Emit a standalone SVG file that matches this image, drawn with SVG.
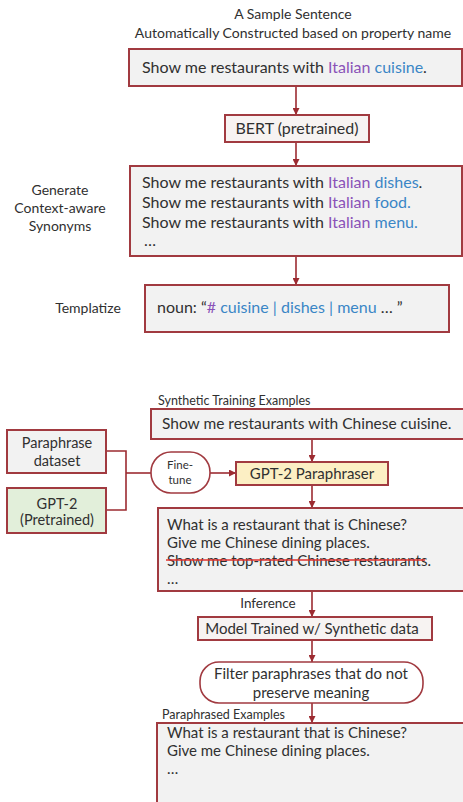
<svg xmlns="http://www.w3.org/2000/svg" width="463" height="802" viewBox="0 0 463 802">
<defs>
<marker id="ah" viewBox="0 0 10 10" refX="10" refY="5" markerWidth="7" markerHeight="7" markerUnits="userSpaceOnUse" orient="auto">
<path d="M0,0 L10,5 L0,10 z" fill="#9c2b31"/>
</marker>
<style>
text{font-family:Lato,"Open Sans","Liberation Sans",sans-serif;fill:#303030}
.box{fill:#f2f2f2;stroke:#a13a40;stroke-width:2}
.wbox{fill:#f7f3f2;stroke:#a13a40;stroke-width:2}
.pill{fill:#ffffff;stroke:#a13a40;stroke-width:1.6}
.c{stroke:#9c2b31;stroke-width:1.6;fill:none}
.a{marker-end:url(#ah)}
.m{font-size:16px}
.s{font-size:13.5px}
.t{font-size:14px}
.pu{fill:#8a53b8}
.bl{fill:#3a86c6}
.mid{text-anchor:middle}
</style>
</defs>

<g id="title">
<text class="t mid" x="293" y="19">A Sample Sentence</text>
<text class="t mid" x="293" y="38">Automatically Constructed based on property name</text>
</g>

<g id="connectors">
<line class="c a" x1="296" y1="86" x2="296" y2="115"/>
<line class="c a" x1="296" y1="142" x2="296" y2="166"/>
<line class="c a" x1="296" y1="256" x2="296" y2="285"/>
<line class="c a" x1="312" y1="439" x2="312" y2="462"/>
<polyline class="c" points="106,451 126,451 126,510 106,510"/>
<line class="c" x1="126" y1="473" x2="151" y2="473"/>
<line class="c a" x1="210" y1="473" x2="236" y2="473"/>
<line class="c a" x1="312" y1="485" x2="312" y2="508"/>
<line class="c a" x1="312" y1="591" x2="312" y2="617"/>
<line class="c a" x1="312" y1="640" x2="312" y2="662"/>
<line class="c a" x1="312" y1="703" x2="312" y2="723"/>
</g>

<g id="sample">
<rect class="box" x="129" y="49" width="333" height="37"/>
<text class="m" x="142" y="73">Show me restaurants with <tspan class="pu">Italian</tspan> <tspan class="bl">cuisine</tspan>.</text>
</g>

<g id="bert">
<rect class="wbox" x="225" y="115" width="144" height="27"/>
<text class="m mid" x="297" y="134">BERT (pretrained)</text>
</g>

<g id="synonyms-label">
<text class="t mid" x="60" y="195">Generate</text>
<text class="t mid" x="60" y="213">Context-aware</text>
<text class="t mid" x="60" y="231">Synonyms</text>
</g>

<g id="synonyms">
<rect class="box" x="130" y="166" width="332" height="90"/>
<text class="m" x="142" y="188">Show me restaurants with <tspan class="pu">Italian</tspan> <tspan class="bl">dishes</tspan>.</text>
<text class="m" x="142" y="208">Show me restaurants with <tspan class="pu">Italian</tspan> <tspan class="bl">food.</tspan></text>
<text class="m" x="142" y="228">Show me restaurants with <tspan class="pu">Italian</tspan> <tspan class="bl">menu.</tspan></text>
<text class="m" x="144" y="246">…</text>
</g>

<g id="templatize-label">
<text class="t mid" x="88" y="313">Templatize</text>
</g>

<g id="templatize">
<rect class="box" x="145" y="285" width="304" height="47"/>
<text class="m" x="157" y="313">noun: “<tspan class="pu">#</tspan><tspan class="bl"> cuisine | dishes | menu</tspan> … ”</text>
</g>

<g id="synthetic">
<text x="158" y="405" style="font-size:12.5px">Synthetic Training Examples</text>
<rect class="box" x="151" y="409" width="320" height="30"/>
<text x="162" y="429" style="font-size:15.5px">Show me restaurants with Chinese cuisine.</text>
</g>

<g id="paraphrase-dataset">
<rect class="box" x="7" y="430" width="99" height="43"/>
<text class="mid" x="57" y="448" style="font-size:14.5px">Paraphrase</text>
<text class="mid" x="57" y="466" style="font-size:14.5px">dataset</text>
</g>

<g id="gpt2">
<rect x="7" y="488" width="99" height="45" style="fill:#e2efda;stroke:#a13a40;stroke-width:2"/>
<text class="mid" x="57" y="509" style="font-size:14.5px">GPT-2</text>
<text class="mid" x="57" y="525" style="font-size:14.5px">(Pretrained)</text>
</g>

<g id="finetune">
<rect class="pill" x="151" y="452" width="59" height="41" rx="20" ry="20"/>
<text class="mid" x="180" y="469" style="font-size:11.5px">Fine-</text>
<text class="mid" x="180" y="484" style="font-size:11.5px">tune</text>
</g>

<g id="paraphraser">
<rect x="236" y="462" width="152" height="23" style="fill:#fcefc4;stroke:#a13a40;stroke-width:2"/>
<text class="mid" x="312" y="479" style="font-size:15px">GPT-2 Paraphraser</text>
</g>

<g id="generated">
<rect class="box" x="158" y="508" width="313" height="83"/>
<text x="167" y="530" style="font-size:15px">What is a restaurant that is Chinese?</text>
<text x="167" y="548" style="font-size:15px">Give me Chinese dining places.</text>
<text x="167" y="566" style="font-size:15px">Show me top-rated Chinese restaurants.</text>
<line x1="166" y1="560" x2="425" y2="560" style="stroke:#e0322f;stroke-width:1.6"/>
<text x="167" y="584" style="font-size:15px">…</text>
</g>

<g id="inference">
<text class="mid" x="268" y="608" style="font-size:13.5px">Inference</text>
</g>

<g id="model">
<rect class="wbox" x="198" y="617" width="234" height="23"/>
<text class="mid" x="312" y="634" style="font-size:15px">Model Trained w/ Synthetic data</text>
</g>

<g id="filter">
<rect class="pill" x="200" y="662" width="223" height="41" rx="19" ry="19"/>
<text class="mid" x="311" y="679" style="font-size:15px">Filter paraphrases that do not</text>
<text class="mid" x="311" y="698" style="font-size:15px">preserve meaning</text>
</g>

<g id="paraphrased">
<text x="162" y="719" style="font-size:12.5px">Paraphrased Examples</text>
<rect class="box" x="157" y="723" width="314" height="90"/>
<text x="167" y="738" style="font-size:15px">What is a restaurant that is Chinese?</text>
<text x="167" y="756" style="font-size:15px">Give me Chinese dining places.</text>
<text x="167" y="774" style="font-size:15px">…</text>
</g>
</svg>
